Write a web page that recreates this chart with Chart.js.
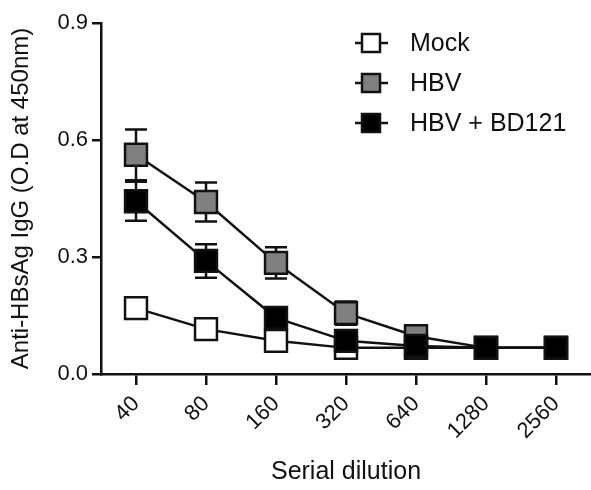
<!DOCTYPE html>
<html>
<head>
<meta charset="utf-8">
<script src="https://cdn.jsdelivr.net/npm/chart.js@4/dist/chart.umd.min.js"></script>
<style>
  html, body { margin: 0; padding: 0; background: #fff; }
  #wrap { width: 591px; height: 490px; }
</style>
</head>
<body>
<div id="wrap"><canvas id="chart"></canvas></div>
<script>
const dilutions = ['40', '80', '160', '320', '640', '1280', '2560'];
const yTicks = [0, 0.3, 0.6, 0.9];

const seriesNames = ['Mock', 'HBV', 'HBV + BD121'];
const mockValues = [0.169, 0.115, 0.085, 0.067, 0.067, 0.067, 0.067];
const mockErrors = [0.01, 0.01, 0.01, 0.005, 0.005, 0.005, 0.005];
const hbvValues = [0.562, 0.441, 0.285, 0.156, 0.097, 0.067, 0.067];
const hbvErrors = [0.065, 0.05, 0.04, 0.03, 0.01, 0.005, 0.005];
const bdValues = [0.443, 0.29, 0.144, 0.085, 0.072, 0.067, 0.067];
const bdErrors = [0.05, 0.043, 0.02, 0.01, 0.01, 0.005, 0.005];

const FONT = "'Liberation Sans', Arial, sans-serif";
const INK = '#111';

// error bars, drawn under each dataset's line and markers
const errorBars = {
    id: 'errorBars',
    beforeDatasetDraw(chart, args) {
        const ds = chart.data.datasets[args.index];
        if (!ds.errors) return;
        const meta = args.meta;
        const y = chart.scales.y;
        const ctx = chart.ctx;
        ctx.save();
        ctx.strokeStyle = INK;
        ctx.lineWidth = 2.5;
        meta.data.forEach((pt, i) => {
            const v = ds.data[i], e = ds.errors[i];
            const top = y.getPixelForValue(v + e);
            const bot = y.getPixelForValue(v - e);
            ctx.beginPath();
            ctx.moveTo(pt.x, top); ctx.lineTo(pt.x, bot);
            ctx.moveTo(pt.x - 11, top); ctx.lineTo(pt.x + 11, top);
            ctx.moveTo(pt.x - 11, bot); ctx.lineTo(pt.x + 11, bot);
            ctx.stroke();
        });
        ctx.restore();
    }
};

// legend in the upper right of the plot, one row per series
const boxLegend = {
    id: 'boxLegend',
    afterDraw(chart) {
        const ctx = chart.ctx;
        ctx.save();
        seriesNames.forEach((name, i) => {
            const ds = chart.data.datasets[i];
            const cy = 43 + i * 40;
            const cx = 371;
            ctx.strokeStyle = INK;
            ctx.lineWidth = 2.5;
            ctx.beginPath();
            ctx.moveTo(cx - 16, cy); ctx.lineTo(cx + 17, cy);
            ctx.stroke();
            ctx.fillStyle = ds.pointBackgroundColor;
            ctx.fillRect(cx - 9, cy - 9, 18, 18);
            ctx.strokeRect(cx - 9, cy - 9, 18, 18);
            ctx.fillStyle = INK;
            ctx.font = '25px ' + FONT;
            ctx.textBaseline = 'middle';
            ctx.fillText(name, 410, cy + 1);
        });
        ctx.restore();
    }
};

function series(i, values, errors, fill, order) {
    return {
        label: seriesNames[i],
        data: values,
        errors: errors,
        order: order,
        borderColor: INK,
        borderWidth: 2.5,
        tension: 0,
        pointStyle: 'rect',
        pointRadius: 15.5,
        pointHoverRadius: 15.5,
        pointBorderWidth: 2.5,
        pointBackgroundColor: fill,
        pointBorderColor: INK
    };
}

new Chart(document.getElementById('chart'), {
    type: 'line',
    data: {
        labels: dilutions,
        datasets: [
            series(0, mockValues, mockErrors, '#ffffff', 3),
            series(1, hbvValues, hbvErrors, '#808080', 2),
            series(2, bdValues, bdErrors, '#000000', 1)
        ]
    },
    options: {
        responsive: true,
        maintainAspectRatio: false,
        animation: false,
        layout: { autoPadding: false, padding: { top: 23, right: 0, left: 0, bottom: 0 } },
        plugins: { legend: { display: false }, tooltip: { enabled: false } },
        scales: {
            x: {
                offset: true,
                afterFit: s => { s.height = 116; s.paddingRight = 0; },
                grid: { drawOnChartArea: false, color: INK, lineWidth: 2.5, tickLength: 11 },
                border: { color: INK, width: 2.5 },
                ticks: { color: INK, font: { family: FONT, size: 22 }, maxRotation: 45, minRotation: 45, padding: 6 },
                title: { display: true, text: 'Serial dilution', color: INK, font: { family: FONT, size: 25 }, padding: { top: 4, bottom: 3 } }
            },
            y: {
                min: 0,
                max: 0.9,
                afterFit: s => { s.width = 101; },
                afterBuildTicks: s => { s.ticks = yTicks.map(v => ({ value: v })); },
                grid: { drawOnChartArea: false, color: INK, lineWidth: 2.5, tickLength: 9 },
                border: { color: INK, width: 2.5 },
                ticks: { color: INK, font: { family: FONT, size: 22 }, padding: 4, callback: v => v.toFixed(1) },
                title: { display: true, text: 'Anti-HBsAg IgG (O.D at 450nm)', color: INK, font: { family: FONT, size: 24 }, padding: 7 }
            }
        }
    },
    plugins: [errorBars, boxLegend]
});
</script>
</body>
</html>
